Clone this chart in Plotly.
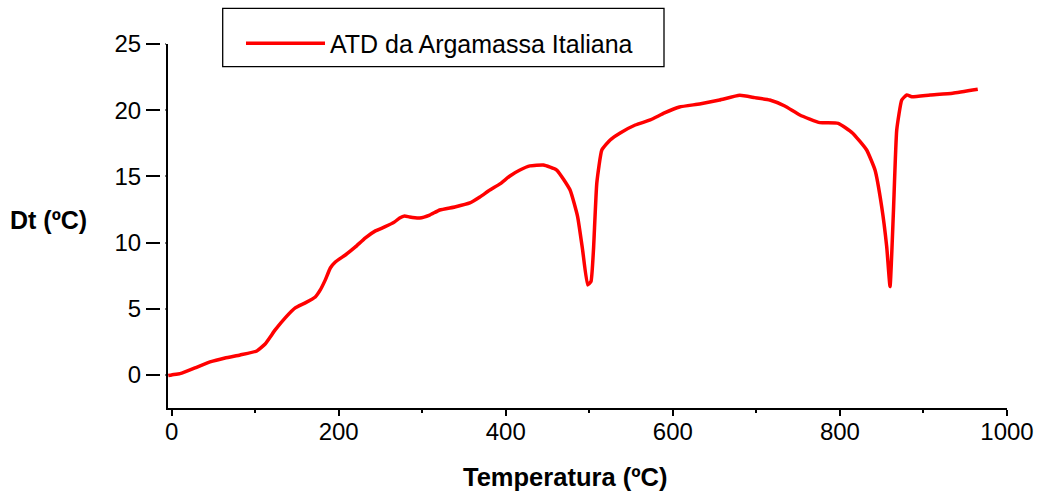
import plotly.graph_objects as go

# Temperature (ºC) and Dt (ºC)
temperatura = [-4, 0, 10, 16, 28, 46, 64, 82, 102, 112, 124, 136, 148, 160, 172, 178, 184,
               190, 196, 208, 220, 232, 244, 255, 267, 273, 279, 285, 297, 309, 321,
               339, 357, 369, 381, 393, 405, 417, 429, 445, 461, 477, 486, 492, 498,
               502, 505, 509, 515, 525, 537, 555, 573, 590, 608, 632, 656, 680, 698,
               716, 734, 752, 776, 798, 815, 832, 842, 850, 856, 860, 864, 868, 874,
               880, 886, 908, 935, 965]
dt = [-0.05, 0.0, 0.1, 0.23, 0.53, 0.98, 1.28, 1.51, 1.81, 2.34, 3.40, 4.31, 5.06, 5.44, 5.89,
      6.42, 7.18, 8.08, 8.53, 9.06, 9.67, 10.35, 10.88, 11.18, 11.56, 11.86, 12.01,
      11.93, 11.86, 12.08, 12.46, 12.69, 12.99, 13.44, 13.97, 14.43, 15.03, 15.48,
      15.79, 15.86, 15.48, 13.97, 11.96, 9.44, 6.80, 7.05, 9.44, 14.50, 16.99, 17.75,
      18.28, 18.88, 19.26, 19.79, 20.24, 20.47, 20.77, 21.12, 20.95, 20.77, 20.32,
      19.64, 19.06, 19.01, 18.28, 16.99, 15.48, 12.71, 9.69, 6.67, 12.24, 18.50,
      20.77, 21.15, 21.02, 21.15, 21.28, 21.58]

x_ticks = [0, 200, 400, 600, 800, 1000]
y_ticks = [0, 5, 10, 15, 20, 25]
serie_nome = "ATD da Argamassa Italiana"

FONT = "Liberation Sans, Arial, Helvetica, sans-serif"
L, R, T, B = 168, 31, 44, 85
W, H = 1038, 493
pw = W - L - R
ph = H - T - B


def px_x(p):
    return (p - L) / pw


def px_y(p):
    return (H - B - p) / ph


fig = go.Figure()
fig.add_trace(go.Scatter(
    x=temperatura, y=dt, mode="lines", name=serie_nome,
    line=dict(color="#ff0000", width=3.5, shape="spline", smoothing=0.4),
    showlegend=True,
))

fig.update_layout(
    width=W, height=H,
    margin=dict(l=L, r=R, t=T, b=B, pad=0, autoexpand=False),
    paper_bgcolor="white", plot_bgcolor="white",
    font=dict(family=FONT, size=24, color="black"),
    showlegend=True,
    legend=dict(
        x=px_x(241), y=px_y(20.5), xanchor="left", yanchor="top",
        borderwidth=0, bgcolor="rgba(0,0,0,0)",
        font=dict(family=FONT, size=25, color="black"),
        itemwidth=79,
    ),
    xaxis=dict(
        range=[-4.3, 1000], tickvals=x_ticks, ticktext=[str(v) for v in x_ticks],
        showline=True, linecolor="black", linewidth=2,
        ticks="outside", ticklen=6, tickwidth=2, tickcolor="black",
        minor=dict(ticks="outside", ticklen=3, tickwidth=2, tickcolor="black", dtick=100, tick0=0),
        showgrid=False, zeroline=False, automargin=False,
        ticklabelstandoff=-5,
        tickfont=dict(family=FONT, size=24),
    ),
    yaxis=dict(
        range=[-2.5, 25], tickvals=y_ticks, ticktext=[str(v) for v in y_ticks],
        showline=True, linecolor="black", linewidth=2,
        ticks="outside", ticklen=20, tickwidth=2, tickcolor="black",
        showgrid=False, zeroline=False, automargin=False,
        tickfont=dict(family=FONT, size=24),
    ),
    annotations=[
        dict(text="<b>Temperatura (ºC)</b>", xref="paper", yref="paper",
             x=px_x(565), y=px_y(477), xanchor="center", yanchor="middle",
             showarrow=False, font=dict(family=FONT, size=25.5)),
        dict(text="<b>Dt (ºC)</b>", xref="paper", yref="paper",
             x=px_x(48), y=px_y(220), xanchor="center", yanchor="middle",
             showarrow=False, font=dict(family=FONT, size=25)),
    ],
    shapes=[
        # gap between the y tick dashes and the axis line
        dict(type="rect", xref="paper", yref="paper",
             x0=px_x(160), x1=px_x(165.5), y0=0.05, y1=1.03,
             fillcolor="white", line=dict(width=0), layer="above"),
        # legend frame
        dict(type="rect", xref="paper", yref="paper",
             x0=px_x(222.7), x1=px_x(664), y0=px_y(66.7), y1=px_y(8.3),
             fillcolor="rgba(0,0,0,0)", line=dict(color="black", width=1.3), layer="above"),
    ],
)

fig.write_html("out.html")
